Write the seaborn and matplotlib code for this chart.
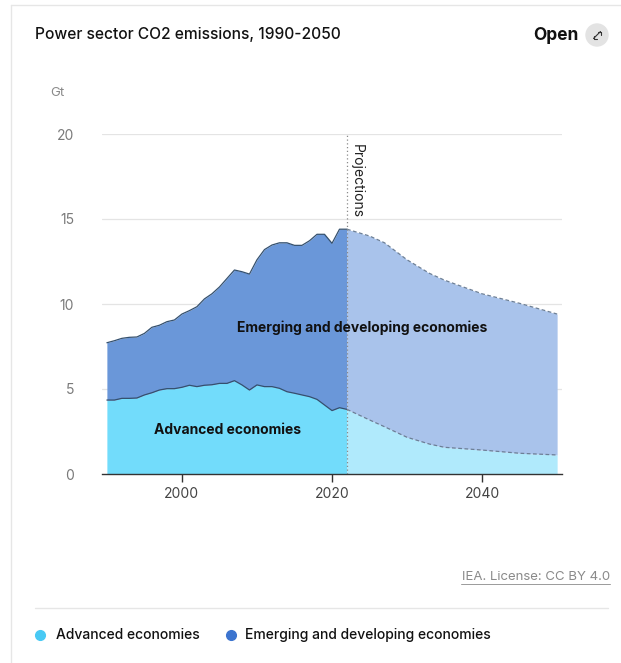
import matplotlib
matplotlib.use("Agg")
import matplotlib.pyplot as plt
import seaborn as sns
import pandas as pd
from matplotlib.lines import Line2D
from matplotlib.patches import Ellipse

# ---------------- data ----------------
hist_years = list(range(1990, 2023))
adv_hist = [4.35, 4.35, 4.45, 4.45, 4.47, 4.65, 4.78, 4.94, 5.02, 5.02,
            5.10, 5.22, 5.14, 5.22, 5.25, 5.33, 5.33, 5.49, 5.24, 4.94,
            5.24, 5.14, 5.14, 5.04, 4.84, 4.75, 4.65, 4.55, 4.39, 4.06,
            3.73, 3.90, 3.80]
emd_hist = [3.37, 3.49, 3.53, 3.59, 3.59, 3.62, 3.85, 3.81, 3.94, 4.04,
            4.31, 4.39, 4.70, 5.08, 5.35, 5.67, 6.17, 6.51, 6.66, 6.82,
            7.36, 8.06, 8.33, 8.56, 8.76, 8.70, 8.80, 9.17, 9.71, 10.04,
            9.84, 10.50, 10.60]
proj_years = [2022, 2025, 2027, 2030, 2033, 2035, 2040, 2045, 2050]
adv_proj = [3.80, 3.18, 2.78, 2.16, 1.76, 1.57, 1.41, 1.22, 1.12]
emd_proj = [10.60, 10.82, 10.82, 10.44, 10.04, 9.83, 9.19, 8.82, 8.29]

series_names = ["Advanced economies", "Emerging and developing economies"]
y_ticks = [0, 5, 10, 15, 20]
x_ticks = [2000, 2020, 2040]
title = "Power sector CO2 emissions, 1990-2050"
unit = "Gt"
source = "IEA. License: CC BY 4.0"

# ---------------- style ----------------
sns.set_theme(style="white")
plt.rcParams["font.family"] = ["Inter", "DejaVu Sans"]

W, H = 621, 663
fig = plt.figure(figsize=(W / 100, H / 100), dpi=100)

def fx(px):
    return px / W

def fy(py):
    return 1 - py / H

ax_left, ax_right = 102, 562
ax_top, ax_bottom = 134, 474
ax = fig.add_axes([fx(ax_left), fy(ax_bottom), fx(ax_right - ax_left), (ax_bottom - ax_top) / H])

hist = pd.DataFrame({"year": hist_years, "adv": adv_hist, "emd": emd_hist})
hist["total"] = hist["adv"] + hist["emd"]
proj = pd.DataFrame({"year": proj_years, "adv": adv_proj, "emd": emd_proj})
proj["total"] = proj["adv"] + proj["emd"]

c_adv, c_emd = "#72dcfb", "#6a97d9"
c_adv_p, c_emd_p = "#b0eafc", "#a9c3eb"

ax.fill_between(hist["year"], 0, hist["adv"], color=c_adv, lw=0, zorder=2)
ax.fill_between(hist["year"], hist["adv"], hist["total"], color=c_emd, lw=0, zorder=2)
ax.fill_between(proj["year"], 0, proj["adv"], color=c_adv_p, lw=0, zorder=2)
ax.fill_between(proj["year"], proj["adv"], proj["total"], color=c_emd_p, lw=0, zorder=2)

sns.lineplot(data=hist, x="year", y="total", ax=ax, color="#34506e", lw=0.9, zorder=3)
sns.lineplot(data=hist, x="year", y="adv", ax=ax, color="#34506e", lw=0.9, zorder=3)
sns.lineplot(data=proj, x="year", y="total", ax=ax, color="#6c7f96", lw=0.9, ls=(0, (3, 2)), zorder=3)
sns.lineplot(data=proj, x="year", y="adv", ax=ax, color="#6c7f96", lw=0.9, ls=(0, (3, 2)), zorder=3)

ax.set_xlim(1989.35, 2050.65)
ax.set_ylim(0, 20)
ax.set_yticks(y_ticks)
ax.set_xticks(x_ticks)
ax.set_xlabel("")
ax.set_ylabel("")
for y in y_ticks[1:]:
    ax.axhline(y, color="#e4e4e4", lw=0.9, zorder=1)
for s in ["top", "right", "left"]:
    ax.spines[s].set_visible(False)
ax.spines["bottom"].set_color("#333333")
ax.spines["bottom"].set_linewidth(1.0)
ax.spines["bottom"].set_zorder(5)
ax.tick_params(axis="y", length=0, pad=20, labelsize=10, labelcolor="#7a7a7a")
ax.tick_params(axis="x", length=6, width=1, color="#333333", pad=3,
               labelsize=10, labelcolor="#444444", bottom=True)
ax.set_facecolor("none")

# projections marker
ax.plot([2022, 2022], [0, 20.0], color="#8a8a8a", lw=0.9, ls=(0, (1, 2)), zorder=4, clip_on=False)
ax.text(2022.4, 19.4, "Projections", rotation=-90, ha="left", va="top", fontsize=10,
        color="#222222", zorder=4)

# in-chart labels
ax.text(2024.0, 8.6, series_names[1], ha="center", va="center", fontsize=10,
        fontweight="bold", color="#111111", zorder=4)
ax.text(2006.1, 2.6, series_names[0], ha="center", va="center", fontsize=10,
        fontweight="bold", color="#111111", zorder=4)

# card border
fig.add_artist(Line2D([fx(11), fx(11)], [0, fy(5)], color="#e6e6e6", lw=1))
fig.add_artist(Line2D([fx(11), 1], [fy(5), fy(5)], color="#e6e6e6", lw=1))

# header
fig.text(fx(35), fy(34), title, ha="left", va="center", fontsize=11.2, color="#111111",
         fontweight="medium")
fig.text(fx(579), fy(35), "Open", ha="right", va="center", fontsize=12.5, fontweight="bold",
         color="#111111")
fig.add_artist(Ellipse((fx(597), fy(35)), 22 / W, 22 / H, transform=fig.transFigure,
                       color="#e3e3e3", zorder=1))
# expand icon (diagonal double arrow) drawn as a shape
icon_segments = [
    ((593.5, 38.5), (600.5, 31.5)),
    ((600.5, 31.5), (597.5, 31.5)),
    ((600.5, 31.5), (600.5, 34.5)),
    ((593.5, 38.5), (596.5, 38.5)),
    ((593.5, 38.5), (593.5, 35.5)),
]
for (x0, y0), (x1, y1) in icon_segments:
    fig.add_artist(Line2D([fx(x0), fx(x1)], [fy(y0), fy(y1)], color="#333333", lw=0.8,
                          solid_capstyle="round", zorder=2))
fig.text(fx(50), fy(93), unit, ha="left", va="center", fontsize=9.5, color="#8a8a8a")

# source
fig.text(fx(610), fy(577), source, ha="right", va="center", fontsize=9.5, color="#8a8a8a")
fig.add_artist(Line2D([fx(461), fx(610)], [fy(584), fy(584)], color="#9a9a9a", lw=0.7))
fig.add_artist(Line2D([fx(35), fx(608)], [fy(608), fy(608)], color="#e6e6e6", lw=1))

# legend
fig.add_artist(Line2D([fx(40)], [fy(635)], marker="o", ms=7, color="#48c9f4", lw=0))
fig.text(fx(56), fy(635), series_names[0], ha="left", va="center", fontsize=10,
         color="#111111", fontweight="medium")
fig.add_artist(Line2D([fx(231)], [fy(635)], marker="o", ms=7, color="#3c74cf", lw=0))
fig.text(fx(245), fy(635), series_names[1], ha="left", va="center", fontsize=10,
         color="#111111", fontweight="medium")

fig.savefig("out.png", dpi=100, facecolor="white")
